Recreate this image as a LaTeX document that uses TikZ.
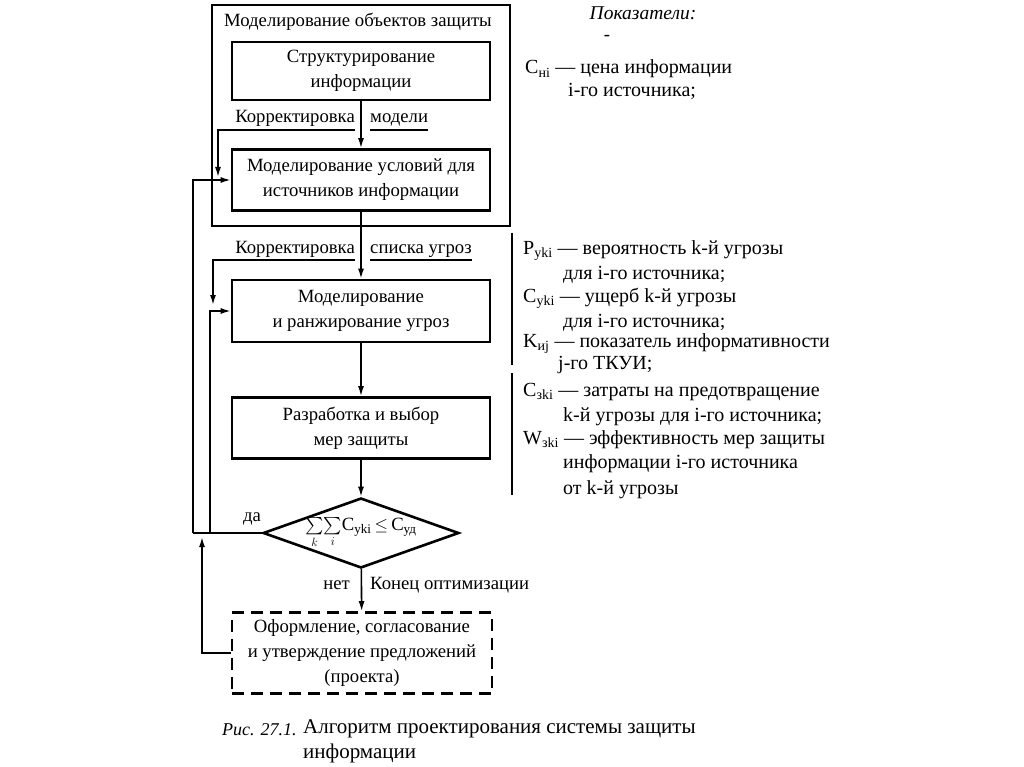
\documentclass[tikz,border=0pt]{standalone}
\usepackage{amsmath}
\usepackage{fontspec}
\setmainfont{Liberation Serif}
\usetikzlibrary{arrows.meta,shapes.geometric}

\begin{document}
\begin{tikzpicture}[x=1pt,y=-1pt,
		box/.style={draw,line width=2.6pt,minimum width=258,minimum height=61,align=center,font=\fontsize{18.7}{25}\selectfont},
		arr/.style={-{Latex[length=10pt,width=6pt]},line width=1.6pt},
		lbl/.style={inner sep=0pt,font=\fontsize{18.7}{22}\selectfont},
		legend/.style={anchor=base west,inner sep=0pt,font=\fontsize{20}{24}\selectfont}]

	\useasboundingbox (0,0) rectangle (1024,767);

	% frame of the object model
	\draw [line width=1.8pt] (212,5) rectangle (510,226);
	\node [lbl] (objects) at (358,22) {Моделирование объектов защиты};

	% blocks
	\node [box,minimum height=58] (struct) at (361,71) {Структурирование\\информации};
	\node [box] (cond) at (361,180) {Моделирование условий для\\источников информации};
	\node [box,minimum height=62] (threats) at (361,311) {Моделирование\\и ранжирование угроз};
	\node [box] (measures) at (361,428) {Разработка и выбор\\мер защиты};
	\node [draw,diamond,line width=2.6pt,minimum width=194,minimum height=70,inner sep=0pt,shape aspect=2.8,font=\fontsize{18.7}{22}\selectfont]
		(check) at (361,533) {$\sum\limits_{k}\!\sum\limits_{i}$C\textsubscript{уki}\,$\leq$\,C\textsubscript{уд}};
	\node [box,dash pattern=on 12pt off 7pt,minimum width=260,minimum height=81] (final) at (362,653)
		{Оформление, согласование\\и утверждение предложений\\(проекта)};

	% main flow
	\draw [arr] (struct) -- (cond);
	\draw [arr] (cond) -- (threats);
	\draw [arr] (threats) -- (measures);
	\draw [arr] (measures) -- (check);
	\draw [arr] (check) -- (final);

	% labels on the flow
	\node [lbl,anchor=base east] (corrA) at (355,123) {Корректировка};
	\node [lbl,anchor=base west] (model) at (370,123) {модели};
	\node [lbl,anchor=base east] (corrB) at (355,253) {Корректировка};
	\node [lbl,anchor=base west] (list) at (370,253) {списка угроз};
	\node [lbl,anchor=base east] (no) at (350,589) {нет};
	\node [lbl,anchor=base west] (stop) at (370,589) {Конец оптимизации};
	\node [lbl,anchor=base] (yes) at (252,521) {да};
	\draw [line width=1.6pt] ([yshift=-7pt]model.base west) -- ([yshift=-7pt]model.base east);
	\draw [line width=1.6pt] ([yshift=-7pt]list.base west) -- ([yshift=-7pt]list.base east);

	% corrections
	\coordinate (fixA) at (355,130);
	\coordinate (fixAend) at (218,177);
	\draw [arr] (fixA) -| (fixAend);
	\coordinate (fixB) at (355,260);
	\coordinate (fixBend) at (213,305);
	\draw [arr] (fixB) -| (fixBend);

	% loops
	\coordinate (loopA) at (193,533);
	\coordinate (loopB) at (210,533);
	\draw [line width=1.6pt] (check.west) -- (loopA);
	\draw [arr] (loopA) |- (cond.west);
	\draw [arr] (loopB) |- (threats.west);
	\coordinate (back) at (202,537);
	\draw [arr] (final.west) -| (back);

	% indicators
	\node [font=\itshape\fontsize{19.5}{22}\selectfont] (title) at (643,13) {Показатели:};
	\node [lbl] (dash) at (607,38) {-};
	\node [legend] (cn) at (525,74) {C\textsubscript{нi} — цена информации};
	\node [legend] (cn2) at (568,97) {i-го источника;};
	\draw [line width=1.6pt] (512,233) -- (512,365);
	\node [legend] (py) at (523,254) {P\textsubscript{уki} — вероятность k-й угрозы};
	\node [legend] (py2) at (563,279) {для i-го источника;};
	\node [legend] (cy) at (523,302) {C\textsubscript{уki} — ущерб k-й угрозы};
	\node [legend] (cy2) at (563,327) {для i-го источника;};
	\node [legend] (ki) at (523,347) {K\textsubscript{иj} — показатель информативности};
	\node [legend] (ki2) at (558,369) {j-го ТКУИ;};
	\draw [line width=1.6pt] (512,373) -- (512,495);
	\node [legend] (cz) at (523,396) {C\textsubscript{зki} — затраты на предотвращение};
	\node [legend] (cz2) at (563,421) {k-й угрозы для i-го источника;};
	\node [legend] (wz) at (523,444) {W\textsubscript{зki} — эффективность мер защиты};
	\node [legend] (wz2) at (563,468) {информации i-го источника};
	\node [legend] (wz3) at (563,494) {от k-й угрозы};

	% caption
	\node [anchor=base west,inner sep=0pt,font=\itshape\fontsize{18}{23}\selectfont] (fig) at (222,735) {Рис. 27.1.};
	\node [anchor=north west,inner sep=0pt,align=left,font=\fontsize{21}{25}\selectfont] (caption) at (303,719)
		{Алгоритм проектирования системы защиты\\информации};

\end{tikzpicture}
\end{document}
